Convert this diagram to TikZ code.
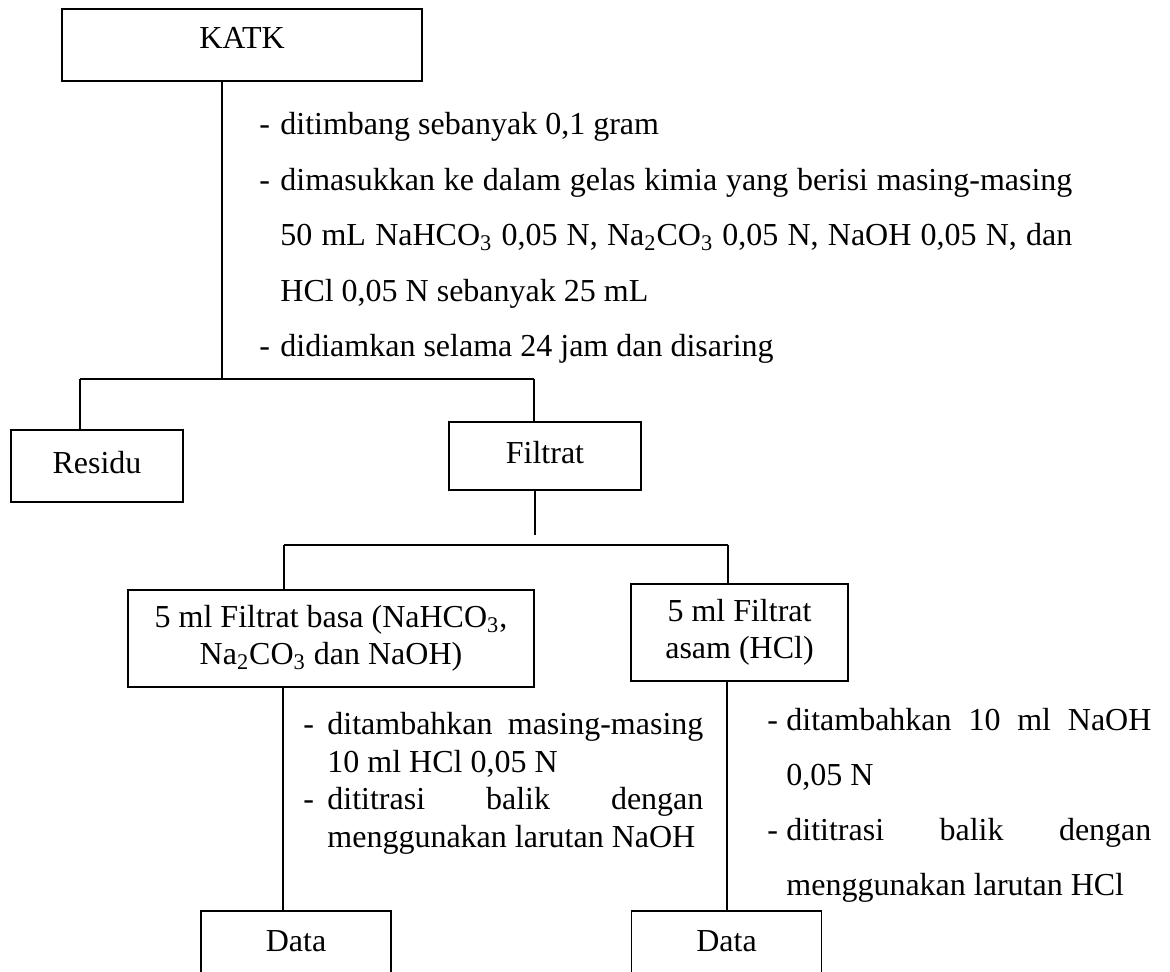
\documentclass[tikz,border=0pt]{standalone}
\usepackage{fontspec}
\setmainfont{Liberation Serif}
\usepackage{tikz}

\newcommand{\butir}[2]{\noindent\hangindent=#1\hangafter=1\hbox to #1{-\hfil}\ignorespaces#2\par}

\begin{document}
\begin{tikzpicture}[
    x=0.5pt, y=-0.5pt,
    font=\fontsize{16}{18.5}\selectfont,
    block/.style={
        rectangle, draw=black, line width=0.8pt, align=center,
        inner sep=0pt, text depth=4pt
    },
    twoline/.style={
        rectangle, draw=black, line width=0.8pt, align=center, inner sep=0pt
    },
    note/.style={
        anchor=north west, inner sep=0pt, align=justify
    },
    line/.style={draw, line width=0.8pt}
]
    \useasboundingbox (0,0) rectangle (1170,971);
    \fill [white] (0,0) rectangle (1170,971);
    \clip (0,0) rectangle (1170,971);

    \node [block, minimum width=180pt, minimum height=36pt, text depth=7pt] (katk) at (242,45) {KATK};
    \node [block, minimum width=86pt, minimum height=36pt]    (residu)  at (97,466)    {Residu};
    \node [block, minimum width=96pt, minimum height=34pt]    (filtrat) at (545,456)   {Filtrat};
    \node [twoline, minimum width=203pt, minimum height=48.5pt] (basa)  at (331,638.5) {5 ml Filtrat basa (NaHCO\textsubscript{3},\\Na\textsubscript{2}CO\textsubscript{3} dan NaOH)};
    \node [twoline, minimum width=108.5pt, minimum height=48.5pt] (asam) at (739.5,632.5) {5 ml Filtrat\\asam (HCl)};
    \node [block, minimum width=95pt, minimum height=34pt]    (data1)   at (296,945)   {Data};
    \node [block, minimum width=95pt, minimum height=34pt]    (data2)   at (726.5,945) {Data};

    \node [note, text width=406.5pt, font=\fontsize{16}{27.75}\selectfont] (langkah1) at (259,112) {%
        \butir{10.5pt}{ditimbang sebanyak 0,1 gram}
        \butir{10.5pt}{dimasukkan ke dalam gelas kimia yang berisi masing-masing\linebreak 50 mL NaHCO\textsubscript{3} 0,05 N, Na\textsubscript{2}CO\textsubscript{3} 0,05 N, NaOH 0,05 N, dan\linebreak HCl 0,05 N sebanyak 25 mL}
        \butir{10.5pt}{didiamkan selama 24 jam dan disaring}};
    \node [note, text width=200pt, font=\fontsize{16}{18.75}\selectfont] (langkah2) at (303,712) {%
        \butir{12pt}{ditambahkan masing-masing\linebreak 10 ml HCl 0,05 N}
        \butir{12pt}{dititrasi balik dengan\linebreak menggunakan larutan NaOH}};
    \node [note, text width=192pt, font=\fontsize{16}{27.5}\selectfont] (langkah3) at (767,708) {%
        \butir{9.5pt}{ditambahkan 10 ml NaOH\linebreak 0,05 N}
        \butir{9.5pt}{dititrasi balik dengan\linebreak menggunakan larutan HCl}};

    \coordinate (cabang1) at (222,379);
    \coordinate (kiri1)   at (80,379);
    \coordinate (kanan1)  at (534,379);
    \coordinate (ujung)   at (535,535);
    \coordinate (kiri2)   at (284,545);
    \coordinate (kanan2)  at (728,545);
    \coordinate (jalur1)  at (283,0);
    \coordinate (jalur2)  at (727,0);

    \path [line] (katk.south -| cabang1) -- (cabang1);
    \path [line] (kiri1) -- (kanan1);
    \path [line] (kiri1) -- (kiri1 |- residu.north);
    \path [line] (kanan1) -- (kanan1 |- filtrat.north);
    \path [line] (filtrat.south -| ujung) -- (ujung);
    \path [line] (kiri2) -- (kanan2);
    \path [line] (kiri2) -- (kiri2 |- basa.north);
    \path [line] (kanan2) -- (kanan2 |- asam.north);
    \path [line] (basa.south -| jalur1) -- (data1.north -| jalur1);
    \path [line] (asam.south -| jalur2) -- (data2.north -| jalur2);
\end{tikzpicture}
\end{document}
